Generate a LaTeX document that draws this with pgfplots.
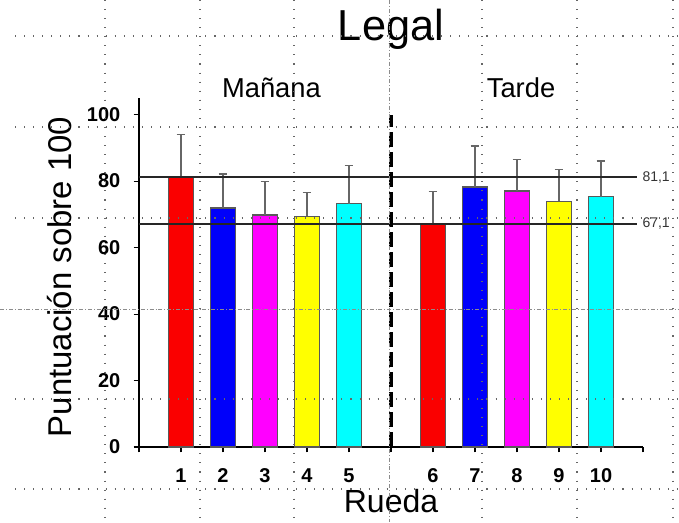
\documentclass[border=0pt]{standalone}
\usepackage{pgfplots}
\pgfplotsset{compat=1.18}
\usepackage{fontspec}
\setmainfont{Liberation Sans}
\definecolor{barred}{RGB}{250,0,0}
\definecolor{barblue}{RGB}{0,0,250}
\definecolor{barmag}{RGB}{255,0,255}
\definecolor{baryel}{RGB}{255,255,0}
\definecolor{barcyan}{RGB}{0,255,255}
\pgfplotsset{
  mybar/.style={ybar, bar width=0.6, bar shift=0pt, draw=black!65, line width=1pt,
    error bars/.cd, y dir=plus, y explicit,
    error bar style={black!60, line width=1.1pt},
    error mark options={rotate=90, black!60, mark size=3.2pt, line width=1.1pt}},
}
\begin{document}
\begin{tikzpicture}
\useasboundingbox (0pt,0pt) rectangle (509.25pt,-391.5pt);
\begin{axis}[
  at={(104.25pt,-335.25pt)}, anchor=south west,
  scale only axis, width=378pt, height=261.75pt,
  xmin=0, xmax=12, ymin=0, ymax=105,
  axis lines*=left,
  axis line style={line width=1.6pt, -},
  xtick={1,2,3,4,5,7,8,9,10,11},
  xticklabels={1,2,3,4,5,6,7,8,9,10},
  extra x ticks={0,6,12}, extra x tick labels={},
  ytick={0,20,40,60,80,100},
  tick align=outside, major tick length=4pt,
  tick style={black, line width=0.8pt},
  ticklabel style={font=\fontsize{15}{17}\selectfont\bfseries},
  xticklabel style={yshift=-8.5pt},
  yticklabel style={xshift=-6.5pt},
  /pgf/number format/assume math mode=true,
  clip=false,
]
\addplot[fill=barred, mybar] coordinates {(1,81.1) +- (0,12.9)};
\addplot[fill=barblue, mybar] coordinates {(2,71.9) +- (0,10.2)};
\addplot[fill=barmag, mybar] coordinates {(3,69.8) +- (0,10.1)};
\addplot[fill=baryel, mybar] coordinates {(4,69.4) +- (0,7.1)};
\addplot[fill=barcyan, mybar] coordinates {(5,73.2) +- (0,11.5)};
\addplot[fill=barred, mybar] coordinates {(7,67.1) +- (0,9.8)};
\addplot[fill=barblue, mybar] coordinates {(8,78.2) +- (0,12.3)};
\addplot[fill=barmag, mybar] coordinates {(9,77.0) +- (0,9.5)};
\addplot[fill=baryel, mybar] coordinates {(10,73.9) +- (0,9.6)};
\addplot[fill=barcyan, mybar] coordinates {(11,75.3) +- (0,10.7)};
\addplot[black!85, line width=1.5pt] coordinates {(0,81.1) (11.85,81.1)};
\addplot[black!85, line width=1.5pt] coordinates {(0,67.1) (11.85,67.1)};
\addplot[black, line width=2.4pt, dash pattern=on 11pt off 4pt] coordinates {(6,0) (6,100)};
\node[anchor=west, inner sep=1pt, text=black!80, font=\fontsize{10.5}{12}\selectfont] at (axis cs:11.95,81.1) {81,1};
\node[anchor=west, inner sep=1pt, text=black!80, font=\fontsize{10.5}{12}\selectfont] at (axis cs:11.95,67.1) {67,1};
\end{axis}
% text
\node[anchor=base, inner sep=0pt, font=\fontsize{32.5}{36}\selectfont] at (293.25pt,-30pt) {Legal};
\node[anchor=base, inner sep=0pt, font=\fontsize{20.5}{24}\selectfont] at (203.6pt,-72.75pt) {Mañana};
\node[anchor=base, inner sep=0pt, font=\fontsize{20.5}{24}\selectfont] at (390.75pt,-72.75pt) {Tarde};
\node[anchor=base, inner sep=0pt, font=\fontsize{24}{28}\selectfont] at (293.25pt,-384pt) {Rueda};
\node[rotate=90, inner sep=0pt, font=\fontsize{24.7}{28}\selectfont] at (45pt,-207.75pt) {Puntuación sobre 100};
% background page grid
\begin{scope}[x=0.75pt, y=-0.75pt]
  \foreach \gx in {105,200,294,482,577,673} {
    \draw[black!60, line width=0.8pt, dash pattern=on 0.8pt off 6pt] (\gx,0) -- (\gx,522);
  }
  \foreach \gy in {36,127,218,399,489} {
    \draw[black!60, line width=0.8pt, dash pattern=on 0.8pt off 6pt] (15,\gy) -- (679,\gy);
  }
  \draw[black!45, line width=0.5pt, dash pattern=on 3pt off 1.5pt on 0.6pt off 1.5pt] (389,0) -- (389,522);
  \draw[black!45, line width=0.5pt, dash pattern=on 3pt off 1.5pt on 0.6pt off 1.5pt] (0,309) -- (679,309);
\end{scope}
\end{tikzpicture}
\end{document}
